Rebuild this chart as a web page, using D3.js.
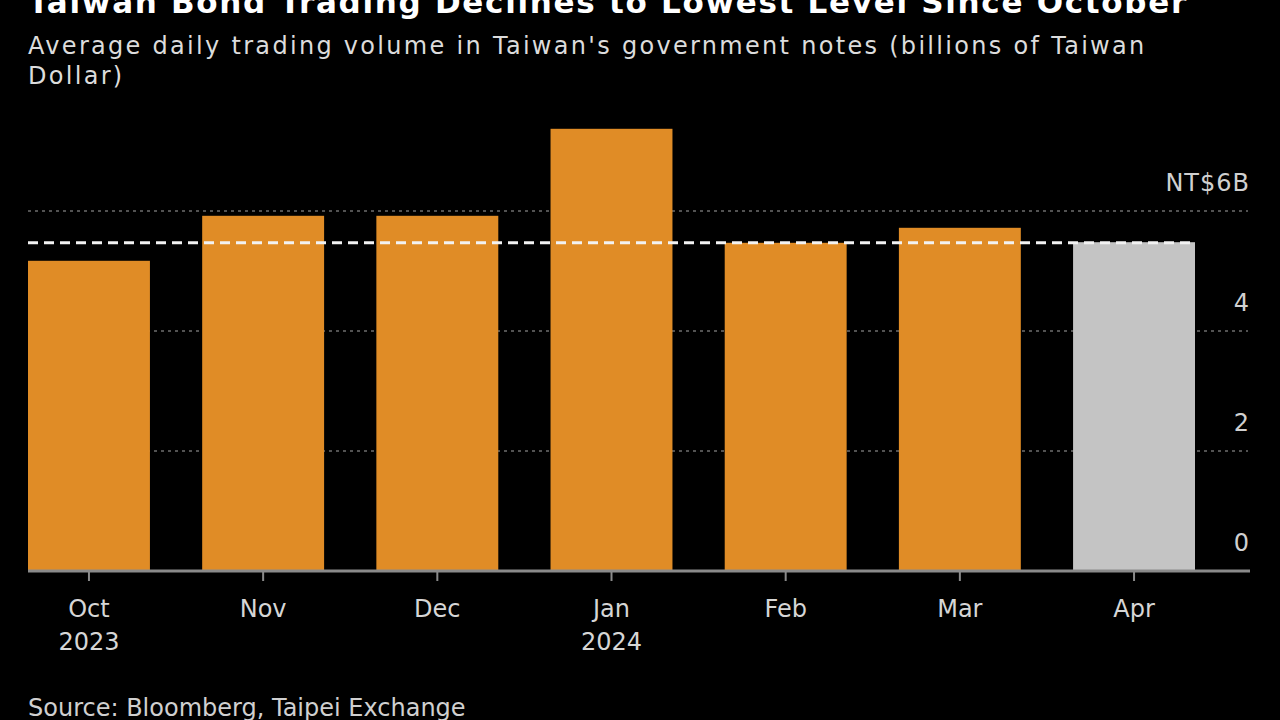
<!DOCTYPE html>
<html>
<head>
<meta charset="utf-8">
<script src="https://cdn.jsdelivr.net/npm/d3@7"></script>
<style>
  html, body { margin: 0; padding: 0; background: #000; }
  svg { display: block; }
  text { font-family: "DejaVu Sans", sans-serif; }
</style>
</head>
<body>
<svg id="chart" width="1280" height="720"></svg>
<script>
const months = ["Oct", "Nov", "Dec", "Jan", "Feb", "Mar", "Apr"];
const years = ["2023", "", "", "2024", "", "", ""];
const volumes = [5.17, 5.92, 5.92, 7.37, 5.47, 5.72, 5.48];
const partial = [false, false, false, false, false, false, true];
const referenceLevel = 5.47;
const yTicks = [0, 2, 4, 6];
const yTickLabels = ["0", "2", "4", "NT$6B"];

const title = "Taiwan Bond Trading Declines to Lowest Level Since October";
const subtitleLines = ["Average daily trading volume in Taiwan's government notes (billions of Taiwan", "Dollar)"];
const source = "Source: Bloomberg, Taipei Exchange";

const svg = d3.select("#chart");
const left = 28, right = 1250, bandRight = 1195;
const y = d3.scaleLinear().domain([0, 6]).range([571, 211]);
const x = d3.scaleBand().domain(months).range([left, bandRight]).paddingInner(0.3).paddingOuter(0);

// title + subtitle
svg.append("text").attr("x", 28).attr("y", 13).attr("fill", "#fff")
  .attr("font-size", 31).attr("font-weight", "bold").attr("letter-spacing", 1.7).text(title);
svg.selectAll("text.sub").data(subtitleLines).enter().append("text")
  .attr("class", "sub").attr("x", 28).attr("y", (d, i) => 54 + i * 30)
  .attr("fill", "#dcdcdc").attr("font-size", 24).attr("letter-spacing", 2.3).text(d => d);

// gridlines
svg.selectAll("line.grid").data(yTicks.filter(d => d > 0)).enter().append("line")
  .attr("class", "grid").attr("x1", left).attr("x2", 1248)
  .attr("y1", d => y(d)).attr("y2", d => y(d))
  .attr("stroke", "#6e6e6e").attr("stroke-width", 1.5).attr("stroke-dasharray", "3,4");

// y labels
svg.selectAll("text.ylab").data(yTicks).enter().append("text")
  .attr("class", "ylab").attr("x", right).attr("y", d => y(d) - 20)
  .attr("text-anchor", "end").attr("fill", "#d0d0d0").attr("font-size", 24)
  .attr("letter-spacing", 1)
  .text((d, i) => yTickLabels[i]);

// bars
svg.selectAll("rect.bar").data(months).enter().append("rect")
  .attr("class", "bar").attr("x", d => x(d)).attr("width", x.bandwidth())
  .attr("y", (d, i) => y(volumes[i])).attr("height", (d, i) => y(0) - y(volumes[i]))
  .attr("fill", (d, i) => partial[i] ? "#c4c4c4" : "#e08c26");

// reference dashed line
svg.append("line").attr("x1", left).attr("x2", x("Apr") + x.bandwidth())
  .attr("y1", y(referenceLevel)).attr("y2", y(referenceLevel))
  .attr("stroke", "#f2f2f2").attr("stroke-width", 3).attr("stroke-dasharray", "10,6");

// x axis
const xAxis = d3.axisBottom(x).tickSize(10).tickFormat("");
const gx = svg.append("g").attr("transform", `translate(0,${y(0)})`).call(xAxis);
gx.select(".domain").remove();
gx.selectAll(".tick line").attr("stroke", "#8a8a8a").attr("stroke-width", 2);
svg.append("line").attr("x1", left).attr("x2", right).attr("y1", y(0)).attr("y2", y(0))
  .attr("stroke", "#8a8a8a").attr("stroke-width", 3);

svg.selectAll("text.mon").data(months).enter().append("text")
  .attr("class", "mon").attr("x", d => x(d) + x.bandwidth() / 2).attr("y", 617)
  .attr("text-anchor", "middle").attr("fill", "#d6d6d6").attr("font-size", 24).text(d => d);
svg.selectAll("text.yr").data(months).enter().append("text")
  .attr("class", "yr").attr("x", d => x(d) + x.bandwidth() / 2).attr("y", 650)
  .attr("text-anchor", "middle").attr("fill", "#d6d6d6").attr("font-size", 24)
  .text((d, i) => years[i]);

svg.append("text").attr("x", 28).attr("y", 716).attr("fill", "#d0d0d0")
  .attr("font-size", 24).text(source);
</script>
</body>
</html>
